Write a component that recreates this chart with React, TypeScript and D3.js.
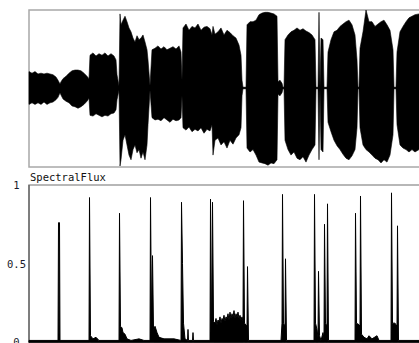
import React, { useEffect, useRef } from 'react'
import * as d3 from 'd3'

// waveform envelope: [time s, upper amplitude, lower amplitude]
const waveEnvelope: [number, number, number][] = [
  [0.0, 0.21, -0.21], [0.3, 0.19, -0.19], [0.6, 0.21, -0.21], [0.9, 0.18, -0.19],
  [1.2, 0.19, -0.21], [1.5, 0.18, -0.18], [1.8, 0.19, -0.21], [2.1, 0.18, -0.19],
  [2.4, 0.17, -0.18], [2.7, 0.14, -0.15], [2.9, 0.10, -0.12], [3.1, 0.05, -0.06],
  [3.2, 0.08, -0.09], [3.4, 0.12, -0.14], [3.7, 0.15, -0.17], [4.0, 0.19, -0.19],
  [4.3, 0.22, -0.23], [4.6, 0.23, -0.24], [4.9, 0.23, -0.26], [5.2, 0.22, -0.24],
  [5.5, 0.19, -0.21], [5.8, 0.15, -0.17], [6.0, 0.12, -0.13],
  [6.1, 0.42, -0.35], [6.4, 0.45, -0.36], [6.7, 0.41, -0.33], [7.0, 0.44, -0.35],
  [7.3, 0.42, -0.37], [7.6, 0.45, -0.35], [7.9, 0.41, -0.36], [8.2, 0.44, -0.33],
  [8.5, 0.41, -0.32], [8.7, 0.36, -0.28], [8.8, 0.17, -0.15], [9.0, 0.03, -0.03],
  [9.1, 0.95, -1.0],
  [9.2, 0.81, -0.92], [9.4, 0.87, -0.67], [9.6, 0.92, -0.60], [9.8, 0.85, -0.73],
  [10.0, 0.77, -0.86], [10.2, 0.72, -0.92], [10.4, 0.64, -0.79], [10.6, 0.59, -0.73],
  [10.8, 0.67, -0.83], [11.0, 0.62, -0.79], [11.2, 0.64, -0.90], [11.4, 0.68, -0.82],
  [11.6, 0.59, -0.92], [11.8, 0.49, -0.73], [11.9, 0.36, -0.47], [12.1, 0.03, -0.03],
  [12.3, 0.49, -0.38], [12.6, 0.51, -0.41], [12.9, 0.54, -0.40], [13.2, 0.50, -0.42],
  [13.5, 0.53, -0.38], [13.8, 0.49, -0.41], [14.1, 0.51, -0.44], [14.4, 0.53, -0.40],
  [14.7, 0.50, -0.42], [15.0, 0.54, -0.41], [15.2, 0.46, -0.38], [15.3, 0.10, -0.10],
  [15.4, 0.77, -0.51], [15.7, 0.82, -0.54], [16.0, 0.74, -0.50], [16.3, 0.79, -0.56],
  [16.6, 0.77, -0.53], [16.9, 0.82, -0.55], [17.2, 0.74, -0.51], [17.5, 0.78, -0.58],
  [17.8, 0.79, -0.53], [18.1, 0.76, -0.55], [18.3, 0.68, -0.47], [18.4, 0.79, -0.86],
  [18.6, 0.69, -0.67], [18.9, 0.72, -0.64], [19.2, 0.77, -0.73], [19.5, 0.68, -0.69],
  [19.8, 0.74, -0.77], [20.1, 0.71, -0.67], [20.4, 0.67, -0.72], [20.7, 0.64, -0.64],
  [21.0, 0.55, -0.60], [21.2, 0.42, -0.51], [21.3, 0.10, -0.10], [21.4, 0.01, -0.01],
  [21.7, 0.01, -0.01],
  [21.8, 0.81, -0.77], [22.1, 0.85, -0.82], [22.4, 0.85, -0.79], [22.7, 0.87, -0.86],
  [23.0, 0.94, -0.95], [23.3, 0.96, -0.96], [23.6, 0.97, -0.97], [23.9, 0.97, -0.99],
  [24.2, 0.96, -0.96], [24.5, 0.95, -0.97], [24.8, 0.92, -0.92], [24.9, 0.08, -0.08],
  [25.1, 0.10, -0.10], [25.3, 0.06, -0.06], [25.4, 0.01, -0.01], [25.5, 0.01, -0.01],
  [25.6, 0.62, -0.67], [25.9, 0.68, -0.79], [26.2, 0.72, -0.86], [26.5, 0.74, -0.82],
  [26.8, 0.77, -0.90], [27.1, 0.74, -0.92], [27.4, 0.76, -0.88], [27.7, 0.73, -0.95],
  [28.0, 0.71, -0.86], [28.3, 0.68, -0.79], [28.6, 0.62, -0.73], [28.7, 0.01, -0.01],
  [28.9, 0.01, -0.01], [29.0, 0.97, -0.92], [29.1, 0.01, -0.01],
  [29.2, 0.64, -0.79], [29.4, 0.62, -0.82], [29.5, 0.01, -0.01], [29.8, 0.01, -0.01],
  [29.9, 0.46, -0.44], [30.2, 0.62, -0.56], [30.5, 0.72, -0.67], [30.8, 0.74, -0.74],
  [31.1, 0.79, -0.79], [31.4, 0.82, -0.85], [31.7, 0.85, -0.90], [32.0, 0.87, -0.92],
  [32.3, 0.81, -0.87], [32.6, 0.68, -0.79], [32.8, 0.36, -0.51], [32.9, 0.01, -0.01],
  [33.0, 0.01, -0.01],
  [33.1, 0.51, -0.51], [33.4, 0.72, -0.73], [33.7, 1.0, -0.79], [34.0, 0.85, -0.82],
  [34.3, 0.85, -0.86], [34.6, 0.79, -0.90], [34.9, 0.82, -0.92], [35.2, 0.85, -0.96],
  [35.5, 0.87, -0.92], [35.8, 0.81, -0.95], [36.1, 0.74, -0.86], [36.4, 0.49, -0.60],
  [36.5, 0.01, -0.01], [36.7, 0.01, -0.01],
  [36.8, 0.46, -0.47], [37.1, 0.72, -0.73], [37.4, 0.79, -0.77], [37.7, 0.85, -0.79],
  [38.0, 0.90, -0.82], [38.3, 0.92, -0.79], [38.6, 0.94, -0.82], [39.0, 0.95, -0.79],
  [40.0, 0.93, -0.80],
]

// spectral flux frames: time (s) and normalised value
const fluxTime = [
  0, 2.9, 2.95, 3.05, 3.1, 6.0, 6.05, 6.15, 6.4, 6.7, 7.0,
  9.0, 9.05, 9.15, 9.3, 9.4, 9.6, 9.8, 10.2, 11.0, 11.5,
  12.1, 12.15, 12.25, 12.35, 12.45, 12.6, 12.8, 13.0, 13.5, 14.5,
  15.2, 15.25, 15.35, 15.45, 15.6, 15.85, 15.9, 15.95, 16.35, 16.4, 16.45,
  18.1, 18.15, 18.25, 18.35, 18.45,
  18.6, 18.7, 18.8, 18.9, 19.0, 19.1, 19.2, 19.3, 19.4, 19.5, 19.6, 19.7, 19.8, 19.9,
  20.0, 20.1, 20.2, 20.3, 20.4, 20.5, 20.6, 20.7, 20.8, 20.9, 21.0, 21.1, 21.2, 21.3, 21.4,
  21.45, 21.55, 21.8, 21.85, 21.95,
  25.2, 25.3, 25.35, 25.45, 25.6, 25.65, 25.75,
  28.5, 28.55, 28.65, 28.8, 28.9, 28.95, 29.05, 29.2, 29.4, 29.5, 29.55, 29.65, 29.8, 29.85, 29.95,
  32.6, 32.65, 32.75, 33.0, 33.1, 33.15, 33.25, 33.5, 33.8, 34.0, 34.3, 34.8, 35.0,
  36.2, 36.25, 36.35, 36.6, 36.8, 36.85, 36.95, 40.0,
]
const fluxValue = [
  0.01, 0.01, 0.76, 0.76, 0.01, 0.01, 0.92, 0.04, 0.02, 0.03, 0.01,
  0.01, 0.82, 0.10, 0.09, 0.06, 0.05, 0.02, 0.01, 0.02, 0.01,
  0.01, 0.92, 0.13, 0.55, 0.08, 0.10, 0.06, 0.03, 0.02, 0.02,
  0.01, 0.89, 0.50, 0.12, 0.02, 0.01, 0.08, 0.01, 0.01, 0.06, 0.01,
  0.01, 0.91, 0.02, 0.89, 0.13,
  0.12, 0.15, 0.11, 0.14, 0.13, 0.16, 0.12, 0.15, 0.14, 0.17, 0.13, 0.16, 0.15, 0.18,
  0.14, 0.19, 0.15, 0.18, 0.16, 0.20, 0.15, 0.18, 0.16, 0.19, 0.15, 0.17, 0.14, 0.16, 0.13,
  0.90, 0.12, 0.10, 0.48, 0.01,
  0.01, 0.12, 0.94, 0.12, 0.10, 0.53, 0.01,
  0.01, 0.94, 0.12, 0.08, 0.03, 0.45, 0.04, 0.01, 0.06, 0.02, 0.75, 0.12, 0.10, 0.88, 0.01,
  0.01, 0.82, 0.12, 0.11, 0.10, 0.93, 0.05, 0.03, 0.02, 0.04, 0.02, 0.04, 0.01,
  0.01, 0.95, 0.12, 0.12, 0.10, 0.74, 0.01, 0.01,
]
const fluxTicks = [0, 0.5, 1]
const fluxLabel = 'SpectralFlux'

export default function App() {
  const ref = useRef<SVGSVGElement>(null)

  useEffect(() => {
    const svg = d3.select(ref.current)
    svg.selectAll('*').remove()

    const font = '"DejaVu Sans Mono", monospace'
    const left = 29, right = 440

    const x = d3.scaleLinear().domain([0, 39]).range([left, 419])

    // top panel: waveform
    const wy = d3.scaleLinear().domain([-1, 1]).range([166, 10])
    svg.append('rect')
      .attr('x', left).attr('y', 10)
      .attr('width', right - left).attr('height', 157)
      .attr('fill', 'none').attr('stroke', '#a8a8a8').attr('stroke-width', 1.5)

    svg.append('line')
      .attr('x1', left).attr('x2', right)
      .attr('y1', wy(0)).attr('y2', wy(0))
      .attr('stroke', '#000').attr('stroke-width', 1)

    const area = d3.area<[number, number, number]>()
      .x(d => x(d[0]))
      .y0(d => wy(d[2]))
      .y1(d => wy(d[1]))
    svg.append('path')
      .attr('d', area(waveEnvelope))
      .attr('fill', '#000')
      .attr('stroke', '#000').attr('stroke-width', 0.6)

    // bottom panel: spectral flux
    const fy = d3.scaleLinear().domain([0, 1]).range([342, 185])
    svg.append('rect')
      .attr('x', left).attr('y', 185)
      .attr('width', right - left).attr('height', 160)
      .attr('fill', 'none').attr('stroke', '#a0a0a0').attr('stroke-width', 1.5)
    svg.append('line')
      .attr('x1', left).attr('x2', left)
      .attr('y1', 185).attr('y2', 343)
      .attr('stroke', '#444').attr('stroke-width', 1)

    svg.append('text')
      .attr('x', left + 1).attr('y', 181)
      .attr('font-family', font).attr('font-size', 10.5)
      .attr('fill', '#111')
      .text(fluxLabel)

    svg.selectAll('text.tick')
      .data(fluxTicks)
      .enter().append('text')
      .attr('class', 'tick')
      .attr('x', 16.5).attr('y', d => fy(d))
      .attr('text-anchor', 'middle').attr('dominant-baseline', 'central')
      .attr('font-family', font).attr('font-size', 10.5)
      .attr('fill', '#1a1a2a')
      .text(d => String(d))

    const pts: [number, number][] = fluxTime.map((t, i) => [t, fluxValue[i]])
    const fluxArea = d3.area<[number, number]>()
      .x(d => x(d[0]))
      .y0(fy(0))
      .y1(d => fy(d[1]))
    svg.append('path')
      .attr('d', fluxArea(pts))
      .attr('fill', '#000')
      .attr('stroke', '#000').attr('stroke-width', 1)

    svg.append('line')
      .attr('x1', left).attr('x2', right)
      .attr('y1', 342).attr('y2', 342)
      .attr('stroke', '#000').attr('stroke-width', 1.5)
  }, [])

  return (
    <svg ref={ref} width={419} height={343}
      style={{ position: 'absolute', left: 0, top: 0, background: '#fff' }} />
  )
}
